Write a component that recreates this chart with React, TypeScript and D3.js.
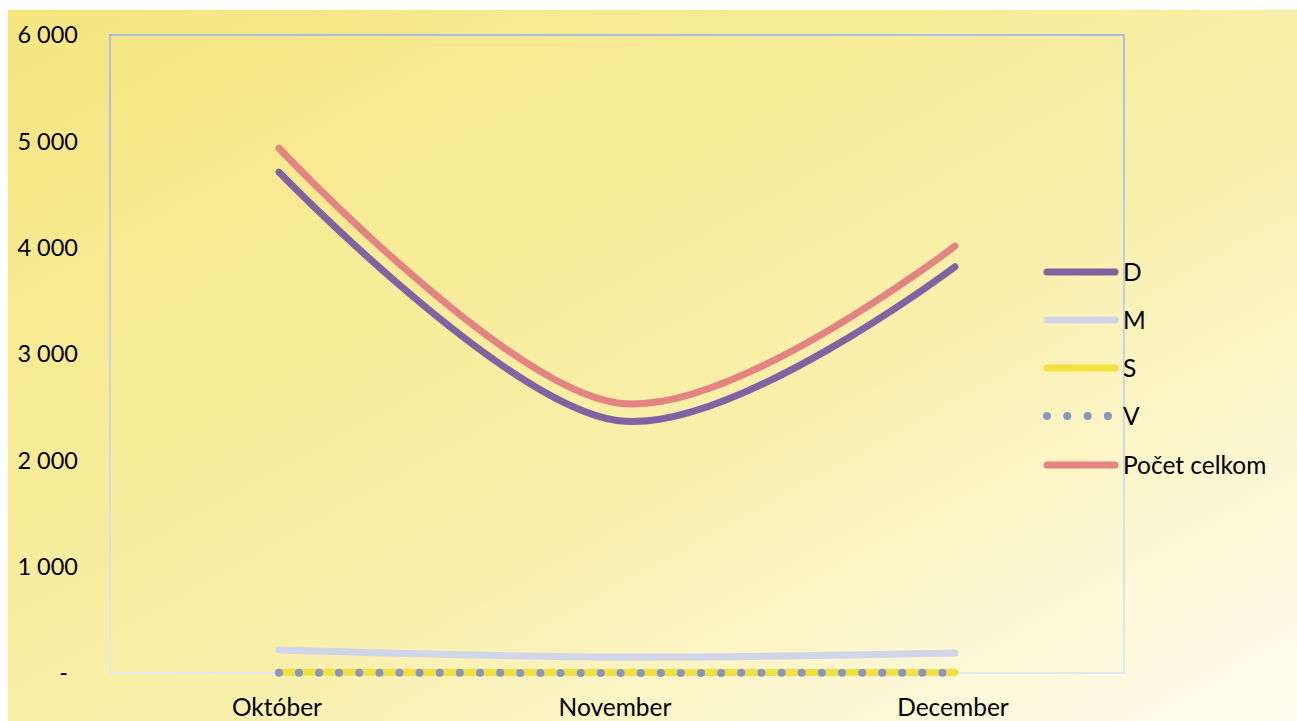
import React from "react";
import * as d3 from "d3";

const categories = ["Október", "November", "December"];
const seriesD = [4710, 2375, 3820];
const seriesM = [216, 150, 188];
const seriesS = [6, 4, 5];
const seriesV = [2, 1, 2];
const seriesTotal = [4935, 2540, 4015];
const yTicks = [0, 1000, 2000, 3000, 4000, 5000, 6000];

const series = [
  { name: "D", values: seriesD, color: "#7f63a3", dotted: false },
  { name: "M", values: seriesM, color: "#d1d5ea", dotted: false },
  { name: "S", values: seriesS, color: "#f3e03d", dotted: false },
  { name: "V", values: seriesV, color: "#8595c8", dotted: true },
  { name: "Počet celkom", values: seriesTotal, color: "#e38483", dotted: false },
];

const FONT = "Lato, 'Noto Sans', sans-serif";

export default function App() {
  const W = 1297, H = 721;
  const plot = { x0: 110, x1: 1124, y0: 35, y1: 673 };
  const x = d3.scaleBand().domain(categories).range([plot.x0, plot.x1]);
  const y = d3.scaleLinear().domain([0, 6000]).range([plot.y1, plot.y0]);
  const cx = (c: string) => (x(c) as number) + x.bandwidth() / 2;
  const line = d3
    .line<number>()
    .x((_, i) => cx(categories[i]))
    .y((v) => y(v))
    .curve(d3.curveCardinal.tension(0));
  const fmt = (v: number) => (v === 0 ? "-" : d3.format(",")(v).replace(/,/g, " "));
  const legendY = [272, 320, 368, 416, 465];
  // draw order: V on top of S
  const drawOrder = [1, 0, 4, 2, 3];

  return (
    <svg
      width={W}
      height={H}
      style={{ position: "fixed", left: 0, top: 0 }}
      fontFamily={FONT}
    >
      <defs>
        <linearGradient id="bg" x1="0" y1="0" x2="1" y2="1">
          <stop offset="0" stopColor="#f5e67f" />
          <stop offset="0.55" stopColor="#f9efa9" />
          <stop offset="1" stopColor="#fffdf0" />
        </linearGradient>
        <linearGradient id="border" x1="0" y1="0" x2="0" y2="1">
          <stop offset="0" stopColor="#a6bfe4" />
          <stop offset="1" stopColor="#e2e8f1" />
        </linearGradient>
      </defs>
      <rect x={0} y={0} width={W} height={H} fill="#ffffff" />
      <rect x={8} y={10} width={W - 8} height={H - 10} fill="url(#bg)" />
      <rect
        x={plot.x0}
        y={plot.y0}
        width={plot.x1 - plot.x0}
        height={plot.y1 - plot.y0}
        fill="none"
        stroke="url(#border)"
        strokeWidth={2}
      />
      {yTicks.map((t) => (
        <text
          key={t}
          x={t === 0 ? 68 : 78}
          y={y(t)}
          dy="0.35em"
          textAnchor="end"
          fontSize={23.5}
          fill="#000"
        >
          {fmt(t)}
        </text>
      ))}
      {categories.map((c) => (
        <text key={c} x={cx(c) - 2} y={716} textAnchor="middle" fontSize={24.5} fill="#000">
          {c}
        </text>
      ))}
      {drawOrder.map((i) => {
        const s = series[i];
        return (
          <path
            key={s.name}
            d={line(s.values) as string}
            fill="none"
            stroke={s.color}
            strokeWidth={s.dotted ? 8 : 7}
            strokeLinecap="round"
            strokeDasharray={s.dotted ? "0 20.1" : undefined}
          />
        );
      })}
      {series.map((s, i) => (
        <g key={s.name}>
          <line
            x1={1047}
            x2={s.dotted ? 1110 : 1115}
            y1={legendY[i]}
            y2={legendY[i]}
            stroke={s.color}
            strokeWidth={s.dotted ? 8 : 7}
            strokeLinecap="round"
            strokeDasharray={s.dotted ? "0 20.3" : undefined}
          />
          <text x={1123} y={legendY[i]} dy="0.35em" fontSize={24.5} fill="#000">
            {s.name}
          </text>
        </g>
      ))}
    </svg>
  );
}
